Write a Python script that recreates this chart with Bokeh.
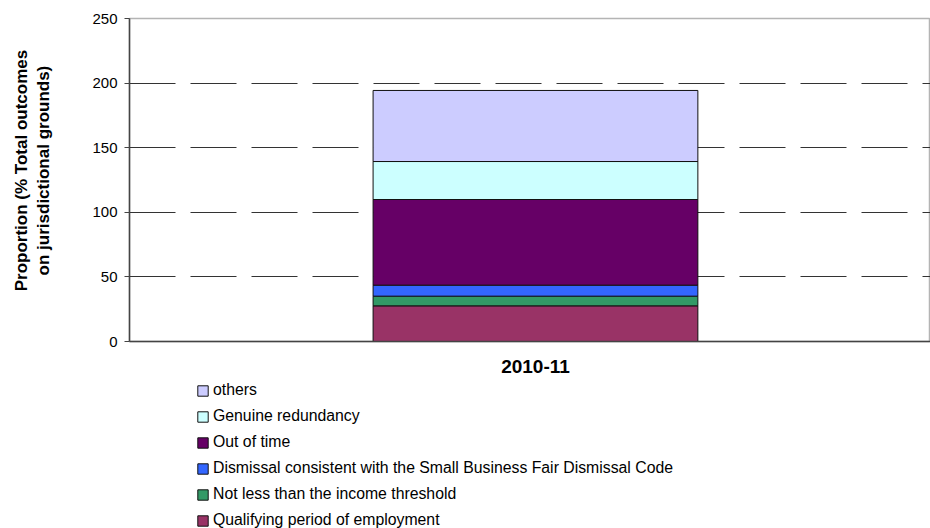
from bokeh.plotting import figure
from bokeh.layouts import column
from bokeh.models import (ColumnDataSource, Range1d, FixedTicker,
                          Legend, LegendItem)
from bokeh.embed import file_html
from bokeh.resources import INLINE

# ---- data ----
years = ["2010-11"]
series_names = [
    "Qualifying period of employment",
    "Not less than the income threshold",
    "Dismissal consistent with the Small Business Fair Dismissal Code",
    "Out of time",
    "Genuine redundancy",
    "others",
]
qualifying = [27.6]
income_threshold = [7.5]
small_business = [8.5]
out_of_time = [66.3]
genuine_redundancy = [29.4]
others = [55.0]
y_ticks = [0, 50, 100, 150, 200, 250]
y_title_lines = ["Proportion (% Total outcomes", "on jurisdictional grounds)"]

colors = ["#993366", "#339966", "#3366FF", "#660066", "#CCFFFF", "#CCCCFF"]

keys = ["s0", "s1", "s2", "s3", "s4", "s5"]
xpos = [i + 0.5 for i in range(len(years))]
source = ColumnDataSource(data=dict(
    x=xpos,
    s0=qualifying, s1=income_threshold, s2=small_business,
    s3=out_of_time, s4=genuine_redundancy, s5=others,
))

# category slot [0, 1]; the right edge of the plot area is cut by the window
p = figure(
    width=930, height=378,
    x_range=Range1d(0, 0.9865),
    y_range=Range1d(0, 250),
    output_backend="svg", toolbar_location=None,
    min_border_left=129, min_border_right=0,
    min_border_top=18, min_border_bottom=37,
)
p.outline_line_color = "#b4b4b4"
p.outline_line_width = 1.5
p.background_fill_color = "white"

renderers = p.vbar_stack(keys, x="x", width=0.4, source=source,
                         fill_color=colors, line_color="#111111", line_width=1)

# y axis (title nudged slightly upward, like the original)
pad = "\u00a0" * 4
p.yaxis.ticker = FixedTicker(ticks=y_ticks)
p.yaxis.axis_label = "\n".join(pad + t for t in y_title_lines)
p.yaxis.axis_label_text_font = "Liberation Sans"
p.yaxis.axis_label_text_font_style = "bold"
p.yaxis.axis_label_text_font_size = "17px"
p.yaxis.axis_label_text_color = "black"
p.yaxis.axis_label_standoff = 36
p.yaxis.major_label_text_font = "Liberation Sans"
p.yaxis.major_label_text_font_size = "15px"
p.yaxis.major_label_text_color = "black"
p.yaxis.major_tick_out = 5
p.yaxis.major_tick_in = 0
p.yaxis.minor_tick_out = 0
p.yaxis.minor_tick_in = 0
p.yaxis.axis_line_color = "#444444"
p.yaxis.axis_line_width = 1.5
p.yaxis.major_tick_line_color = "#444444"
p.yaxis.major_label_standoff = 7

# x axis
p.xaxis.ticker = FixedTicker(ticks=xpos)
p.xaxis.major_label_overrides = {x: y for x, y in zip(xpos, years)}
p.xaxis.major_label_text_font = "Liberation Sans"
p.xaxis.major_label_text_font_style = "bold"
p.xaxis.major_label_text_font_size = "19px"
p.xaxis.major_label_text_color = "black"
p.xaxis.major_tick_line_color = None
p.xaxis.minor_tick_line_color = None
p.xaxis.axis_line_color = "#444444"
p.xaxis.axis_line_width = 1.5
p.xaxis.major_label_standoff = 12

# grid
p.xgrid.grid_line_color = None
p.ygrid.grid_line_color = "#333333"
p.ygrid.grid_line_dash = "46 15"
p.ygrid.grid_line_width = 1

# ---- legend panel (below the chart) ----
lg = figure(
    width=930, height=150,
    x_range=Range1d(0, 0.9865), y_range=Range1d(1000, 1001),
    x_axis_location=None, y_axis_location=None,
    output_backend="svg", toolbar_location=None,
    min_border=0,
)
lg.outline_line_color = None
lg.xgrid.grid_line_color = None
lg.ygrid.grid_line_color = None
# same stacked series (out of view), used only as legend swatches
swatches = lg.vbar_stack(keys, x="x", width=0.4, source=source,
                         fill_color=colors, line_color="#111111", line_width=1)

items = [LegendItem(label=series_names[i], renderers=[swatches[i]])
         for i in reversed(range(len(keys)))]
legend = Legend(items=items, location=(67, -2), orientation="vertical",
                label_text_font="Liberation Sans", label_text_font_size="15.8px",
                label_text_color="black",
                glyph_width=13, glyph_height=13, label_standoff=4,
                label_height=20, spacing=6, padding=0, margin=0,
                border_line_color=None, background_fill_alpha=0)
lg.add_layout(legend, "center")

layout = column(p, lg, spacing=0)
open("out.html", "w").write(file_html(layout, INLINE))
